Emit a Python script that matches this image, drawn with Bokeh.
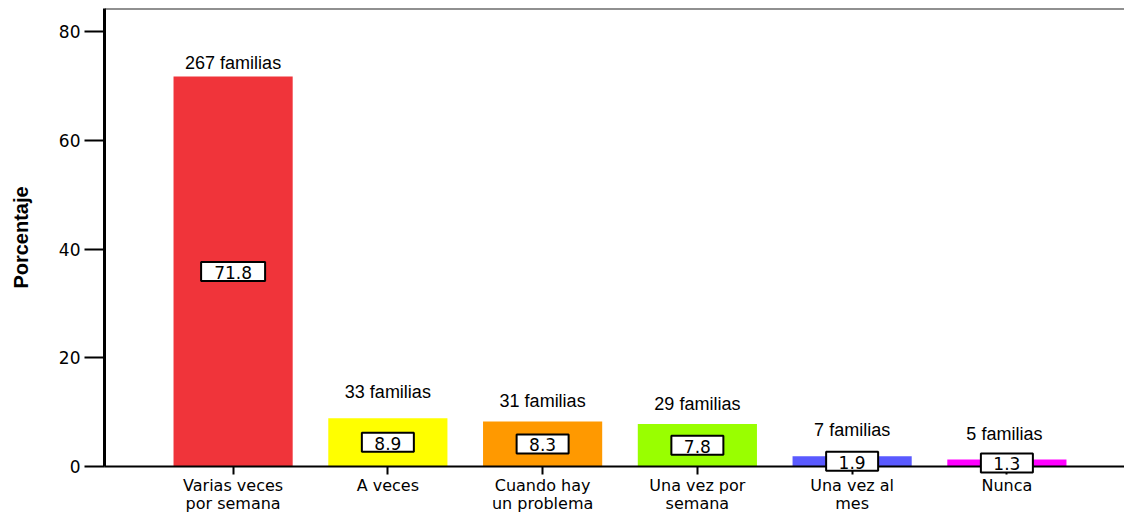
from bokeh.plotting import figure
from bokeh.models import Range1d, FixedTicker, Span, ColumnDataSource
from bokeh.core.properties import value
from bokeh.embed import file_html
from bokeh.resources import INLINE

categories = ["Varias veces\npor semana", "A veces", "Cuando hay\nun problema",
              "Una vez por\nsemana", "Una vez al\nmes", "Nunca"]
percentages = [71.8, 8.9, 8.3, 7.8, 1.9, 1.3]
familias = ["267 familias", "33 familias", "31 familias", "29 familias",
            "7 familias", "5  familias"]
y_ticks = [0, 20, 40, 60, 80]

# styles
colors = ["#F0343A", "#FFFF00", "#FF9900", "#99FF00", "#5A5AFF", "#FF00FF"]
label_gap_px = [3, 16, 10, 10, 16, 15]

x = list(range(len(categories)))
y_top = 84.3

txt = [f"{v:.1f}" for v in percentages]
src = ColumnDataSource(dict(
    x=x,
    mid=[v / 2 for v in percentages],
    txt=txt,
    w=[12 * len(t) + 16 for t in txt],
))

p = figure(width=1124, height=515, output_backend="svg", toolbar_location=None,
           x_range=Range1d(-0.831, 5.76), y_range=Range1d(0, y_top),
           min_border_left=104, min_border_top=8, min_border_right=0,
           min_border_bottom=0)
p.outline_line_color = None
p.grid.visible = False
p.background_fill_color = "white"

p.vbar(x=x, top=percentages, bottom=0, width=0.77, fill_color=colors,
       line_color=None)

p.text(x=x, y=percentages, text=familias, y_offset=[-g for g in label_gap_px],
       text_align="center", text_baseline="bottom",
       text_font=value("Liberation Sans"), text_font_size="18px",
       text_color="black")

r_box = p.rect(x="x", y="mid", width="w", height=19, width_units="screen",
               height_units="screen", source=src, fill_color="white",
               line_color="black", line_width=2)
r_box.level = "overlay"
r_txt = p.text(x="x", y="mid", text="txt", source=src, y_offset=1,
               text_align="center", text_baseline="middle",
               text_font=value("DejaVu Sans"), text_font_size="17px",
               text_color="black")
r_txt.level = "overlay"

p.add_layout(Span(location=y_top, dimension="width", line_color="#222222",
                  line_width=2))

# y axis
p.yaxis.ticker = FixedTicker(ticks=y_ticks)
p.yaxis.major_tick_out = 20
p.yaxis.major_tick_in = 0
p.yaxis.minor_tick_line_color = None
p.yaxis.axis_line_width = 3
p.yaxis.axis_line_color = "black"
p.yaxis.major_tick_line_width = 2
p.yaxis.major_label_text_font = "DejaVu Sans"
p.yaxis.major_label_text_font_size = "17px"
p.yaxis.major_label_text_color = "black"
p.yaxis.major_label_standoff = 4
p.yaxis.axis_label = "Porcentaje"
p.yaxis.axis_label_text_font = "Liberation Sans"
p.yaxis.axis_label_text_font_style = "bold"
p.yaxis.axis_label_text_font_size = "20px"
p.yaxis.axis_label_text_color = "black"
p.yaxis.axis_label_standoff = 24

# x axis
p.xaxis.ticker = FixedTicker(ticks=x)
p.xaxis.major_label_overrides = {i: lab for i, lab in enumerate(categories)}
p.xaxis.major_tick_out = 8
p.xaxis.major_tick_in = 0
p.xaxis.minor_tick_line_color = None
p.xaxis.axis_line_width = 2
p.xaxis.axis_line_color = "black"
p.xaxis.major_tick_line_width = 2
p.xaxis.major_label_text_font = "DejaVu Sans"
p.xaxis.major_label_text_font_size = "16px"
p.xaxis.major_label_text_line_height = 0.95
p.xaxis.major_label_text_color = "black"
p.xaxis.major_label_standoff = 1

open("out.html", "w").write(file_html(p, INLINE))
